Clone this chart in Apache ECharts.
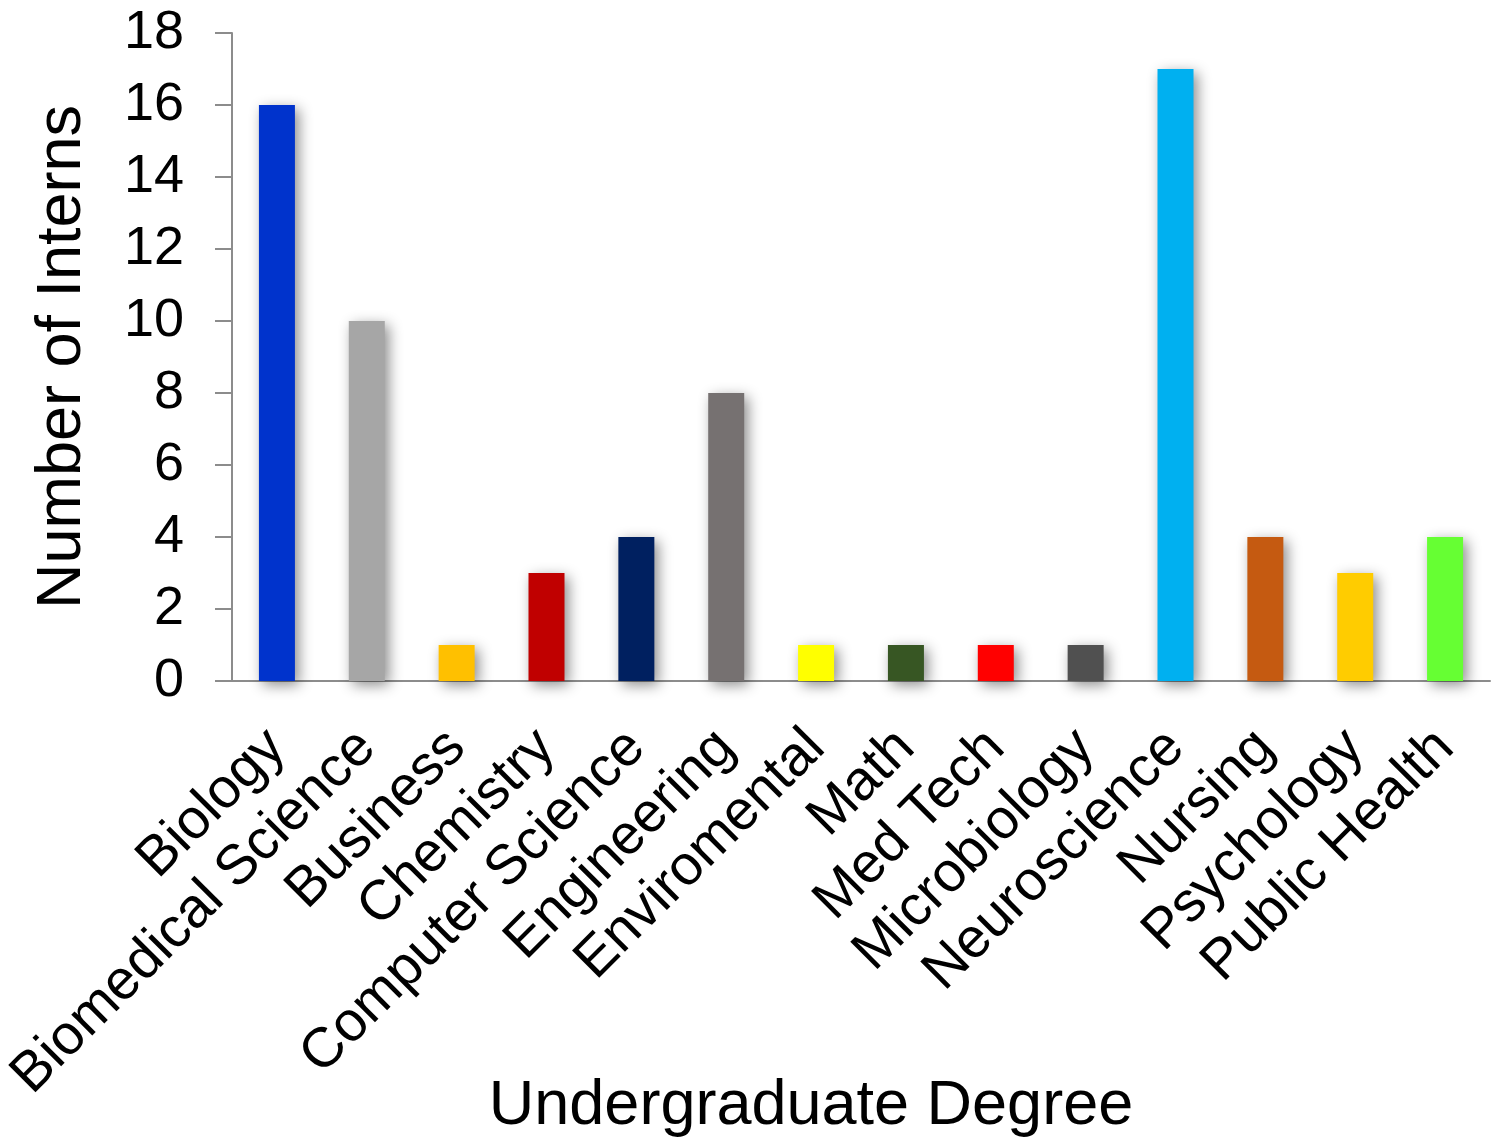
<!DOCTYPE html>
<html>
<head>
<meta charset="utf-8">
<script src="https://cdn.jsdelivr.net/npm/echarts@6/dist/echarts.min.js"></script>
<style>html,body{margin:0;padding:0;background:#fff}#c{width:1500px;height:1148px}</style>
</head>
<body>
<div id="c"></div>
<script>
const categories = ['Biology','Biomedical Science','Business','Chemistry','Computer Science','Engineering','Enviromental','Math','Med Tech','Microbiology','Neuroscience','Nursing','Psychology','Public Health'];
const values = [16,10,1,3,4,8,1,1,1,1,17,4,3,4];
const barColors = ['#0033CC','#A6A6A6','#FFC000','#C00000','#002060','#767171','#FFFF00','#375623','#FF0000','#505050','#00B0F0','#C55A11','#FFCC00','#66FF33'];
const yTicks = [0,2,4,6,8,10,12,14,16,18];

const font = 'Liberation Sans, Arial, sans-serif';
const chart = echarts.init(document.getElementById('c'));
chart.setOption({
  animation: false,
  grid: {left: 232, right: 10, top: 33, bottom: 467, containLabel: false, outerBoundsMode: 'none'},
  xAxis: {
    type: 'category',
    data: categories,
    name: 'Undergraduate Degree',
    nameLocation: 'middle',
    nameGap: 394,
    nameMoveOverlap: false,
    nameTextStyle: {fontFamily: font, fontSize: 63, color: '#000', padding: [0, 100, 0, 0]},
    axisLine: {lineStyle: {color: '#8c8c8c', width: 2}},
    axisTick: {show: false},
    axisLabel: {rotate: 45, interval: 0, fontFamily: font, fontSize: 56, color: '#000', margin: 58}
  },
  yAxis: {
    type: 'value',
    min: yTicks[0],
    max: yTicks[yTicks.length - 1],
    interval: 2,
    name: 'Number of Interns',
    nameLocation: 'middle',
    nameGap: 138,
    nameMoveOverlap: false,
    nameRotate: 90,
    nameTextStyle: {fontFamily: font, fontSize: 63, color: '#000'},
    axisLine: {show: true, lineStyle: {color: '#8c8c8c', width: 2}},
    axisTick: {show: true, length: 17, lineStyle: {color: '#8c8c8c', width: 2}},
    splitLine: {show: false},
    axisLabel: {fontFamily: font, fontSize: 54, color: '#000', margin: 48}
  },
  series: [{
    type: 'bar',
    barWidth: 36,
    data: values.map((v, i) => ({
      value: v,
      itemStyle: {color: barColors[i]}
    })),
    itemStyle: {
      shadowBlur: 14,
      shadowOffsetX: 4,
      shadowOffsetY: 4,
      shadowColor: 'rgba(0,0,0,0.45)'
    }
  }]
});
</script>
</body>
</html>
